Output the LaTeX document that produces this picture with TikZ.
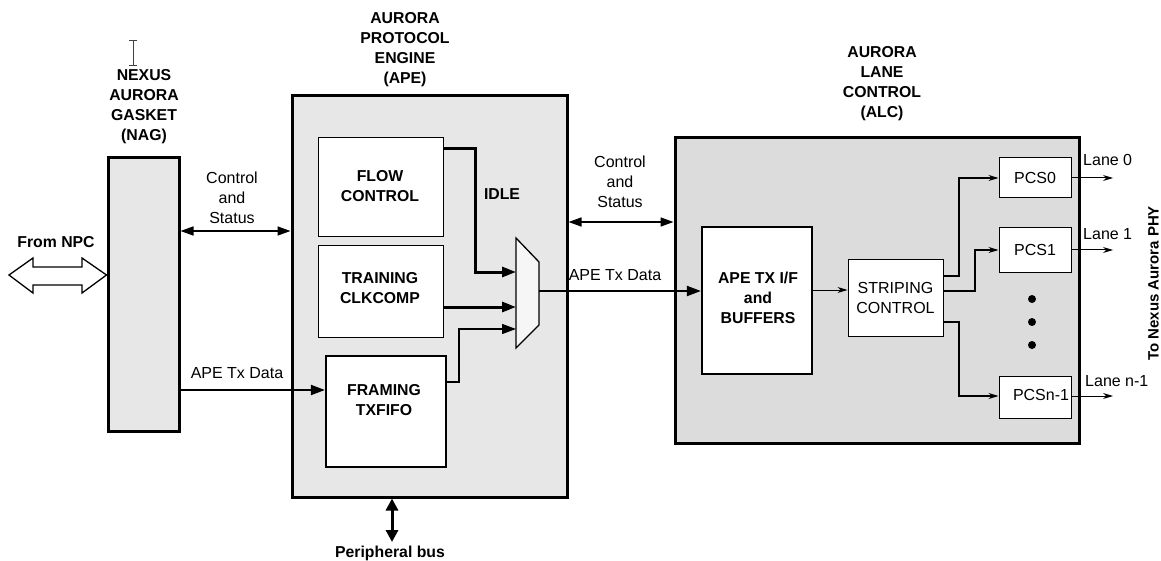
\documentclass[tikz,border=0pt]{standalone}
\usepackage{fontspec}
\setmainfont{Liberation Sans}
\usetikzlibrary{arrows.meta}
\definecolor{boxgray}{HTML}{E6E7E6}
\definecolor{alcgray}{HTML}{DCDCDC}
\definecolor{muxfill}{HTML}{F5F6F5}
\tikzset{
  thickbox/.style={draw, line width=3pt, fill=boxgray, inner sep=0pt},
  alcbox/.style={draw, line width=3pt, fill=alcgray, inner sep=0pt},
  thinbox/.style={draw, line width=1pt, fill=white, inner sep=0pt},
  medbox/.style={draw, line width=2.2pt, fill=white, inner sep=0pt},
  lbl/.style={align=center, inner sep=0pt},
  blbl/.style={align=center, inner sep=0pt, font=\fontsize{15.8}{20}\selectfont\bfseries},
  bigtip/.style={-{Triangle[length=14pt,width=10pt]}},
  thintip/.style={-{Stealth[length=10pt,width=6pt]}},
  dbltip/.style={{Triangle[length=13pt,width=9pt]}-{Triangle[length=13pt,width=9pt]}},
}
\begin{document}
\begin{tikzpicture}[x=1pt,y=-1pt, font=\fontsize{16}{20}\selectfont]
\useasboundingbox (0,0) rectangle (1161,561);

% I-beam mark
\draw[line width=1pt, black!75] (129,41) -- (137,41) (133,41) -- (133,66) (129,66) -- (137,66);

% main boxes
\node[thickbox, minimum width=71, minimum height=273] (nag) at (143.5,294.5) {};
\node[thickbox, minimum width=275, minimum height=401] (ape) at (429.5,296.5) {};
\node[alcbox, minimum width=404, minimum height=305] (alc) at (877,290.5) {};

% titles
\node[blbl] (nagt) at (144,107) {NEXUS\\AURORA\\GASKET\\(NAG)};
\node[blbl] (apet) at (405,49.5) {AURORA\\PROTOCOL\\ENGINE\\(APE)};
\node[blbl] (alct) at (882,83.5) {AURORA\\LANE\\CONTROL\\(ALC)};

% inner boxes of APE
\node[thinbox, minimum width=125, minimum height=99] (flow) at (380.5,187.5) {};
\node[blbl] (flowt) at (380,186) {FLOW\\CONTROL};
\node[thinbox, minimum width=125, minimum height=91] (train) at (380.5,291.5) {};
\node[blbl] (traint) at (380,288) {TRAINING\\CLKCOMP};
\node[medbox, minimum width=120, minimum height=111] (frame) at (386,411.5) {};
\node[blbl] (framet) at (384,400) {FRAMING\\TXFIFO};

% mux
\draw[line width=1.3pt, fill=muxfill] (516,238) -- (539,262) -- (539,325) -- (516,348) -- cycle;
\coordinate (mi1) at (516,272);
\coordinate (mi2) at (516,307);
\coordinate (mi3) at (516,329);
\coordinate (mo) at (539,291);

\node[blbl] (idle) at (502,194) {IDLE};

% ALC inner boxes
\node[medbox, minimum width=110, minimum height=147] (apetx) at (757,300.5) {};
\node[blbl] (apetxt) at (758,298) {APE TX I/F\\and\\BUFFERS};
\node[thinbox, minimum width=95, minimum height=76, lbl] (stripe) at (895.5,298) {STRIPING\\CONTROL};
\node[thinbox, minimum width=72, minimum height=40] (pcs0) at (1035,178) {PCS0};
\node[thinbox, minimum width=72, minimum height=44] (pcs1) at (1035,250) {PCS1};
\node[thinbox, minimum width=72, minimum height=42] (pcsn) at (1035,397) {};
\node[lbl] (pcsnt) at (1041,395) {PCSn-1};

% dots
\fill (1032,299) circle (4) (1032,322) circle (4) (1032,345) circle (4);

% From NPC hollow double arrow
\draw[line width=1.3pt, fill=white] (9,275) -- (33,258) -- (33,267) -- (82,267) -- (82,258) -- (nag.west |- 0,275) -- (82,293) -- (82,285) -- (33,285) -- (33,293) -- cycle;
\node[blbl] (npc) at (56,242) {From NPC};

% control and status
\draw[line width=1.5pt, dbltip] (nag.east |- 0,231) -- (ape.west |- 0,231);
\node[lbl] (cs1) at (232,197.5) {Control\\and\\Status};
\draw[line width=1.5pt, dbltip] (ape.east |- 0,222) -- (alc.west |- 0,222);
\node[lbl] (cs2) at (620,181.5) {Control\\and\\Status};

% APE Tx data into framing
\draw[line width=2pt, bigtip] (nag.east |- 0,390) -- (frame.west |- 0,390);
\node[lbl] (txd1) at (237,373) {APE Tx Data};

% into mux
\draw[line width=3pt, bigtip] ([yshift=-11pt]flow.north east) -- ++(32,0) |- (mi1);
\draw[line width=3pt, bigtip] ([yshift=-15.5pt]train.east) -- (mi2);
\draw[line width=1.3pt, bigtip] ([yshift=29.5pt]frame.east) -- ++(12,0) |- (mi3);

% mux out
\draw[line width=2pt, bigtip] (mo) -- (mo -| apetx.west);
\node[lbl] (txd2) at (615,275) {APE Tx Data};

% ALC internals
\draw[line width=1pt, thintip] (apetx.east |- 0,290) -- (stripe.west |- 0,290);
\draw[line width=1.3pt, thintip] (stripe.east |- 0,276) -| (959,215) |- (pcs0.west);
\draw[line width=1.3pt, thintip] (stripe.east |- 0,291) -| (975,270) |- (pcs1.west);
\draw[line width=1.3pt, thintip] (stripe.east |- 0,322) -| (959,360) |- (pcsn.west |- 0,396);

% lanes
\coordinate (l0) at (1113,178);
\coordinate (l1) at (1113,250);
\coordinate (ln) at (1113,396);
\draw[line width=1pt, thintip] (pcs0.east) -- (l0);
\draw[line width=1pt, thintip] (pcs1.east) -- (l1);
\draw[line width=1pt, thintip] (pcsn.east |- ln) -- (ln);
\node[lbl, anchor=west] (lane0) at (1083,160) {Lane 0};
\node[lbl, anchor=west] (lane1) at (1083,234) {Lane 1};
\node[lbl, anchor=west] (lanen) at (1085,381) {Lane n-1};

\node[inner sep=0pt, rotate=90, font=\fontsize{15}{18}\selectfont\bfseries] (phy) at (1153.5,283.5) {To Nexus Aurora PHY};

% peripheral bus
\coordinate (pb) at (392,542);
\draw[line width=3pt, {Triangle[length=12pt,width=12pt]}-{Triangle[length=12pt,width=12pt]}] (ape.south -| pb) -- (pb);
\node[blbl] (pbus) at (390,553) {Peripheral bus};
\end{tikzpicture}
\end{document}
